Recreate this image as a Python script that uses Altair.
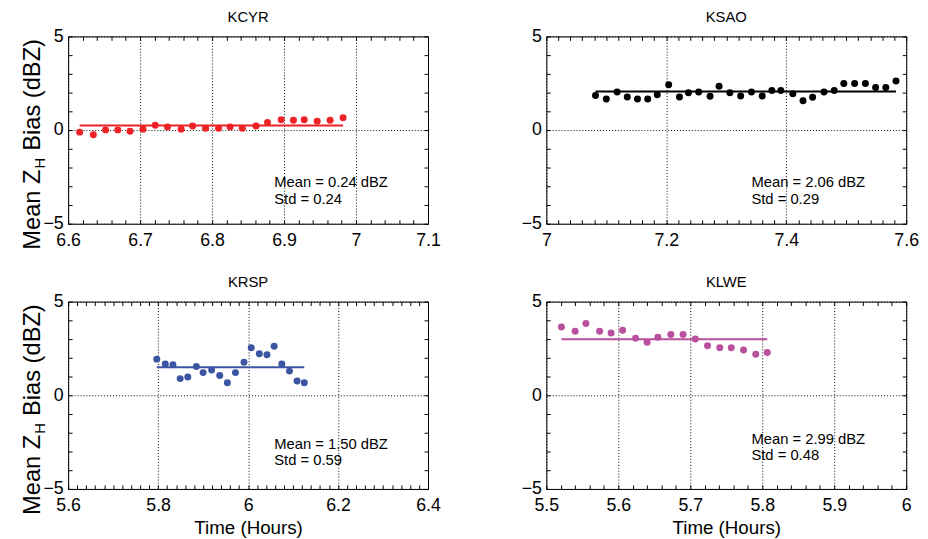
import altair as alt
import pandas as pd
import numpy as np

FONT = "Liberation Sans"

# ---------------- data ----------------
names = ["KCYR", "KSAO", "KRSP", "KLWE"]
colors = ["#ec2227", "#000000", "#3b55a3", "#b9509e"]
means = [0.24, 2.06, 1.50, 2.99]
stds = [0.24, 0.29, 0.59, 0.48]

kcyr_time = [6.616, 6.635, 6.652, 6.669, 6.686, 6.704, 6.721, 6.738, 6.757, 6.773, 6.791,
             6.809, 6.825, 6.842, 6.861, 6.877, 6.896, 6.913, 6.928, 6.946, 6.964, 6.982]
kcyr_bias = [-0.11, -0.25, 0.01, 0.01, -0.06, 0.05, 0.26, 0.17, 0.05, 0.22, 0.10,
             0.10, 0.17, 0.10, 0.22, 0.41, 0.55, 0.52, 0.55, 0.47, 0.52, 0.66]

ksao_time = [7.082, 7.100, 7.118, 7.135, 7.152, 7.169, 7.185, 7.204, 7.222, 7.237,
             7.254, 7.273, 7.288, 7.306, 7.324, 7.342, 7.360, 7.376, 7.391, 7.411,
             7.428, 7.444, 7.463, 7.480, 7.496, 7.514, 7.532, 7.549, 7.566, 7.583]
ksao_bias = [1.85, 1.66, 2.03, 1.77, 1.66, 1.66, 1.89, 2.42, 1.77, 1.99,
             2.03, 1.80, 2.34, 1.99, 1.82, 2.03, 1.82, 2.11, 2.11, 1.94,
             1.57, 1.75, 2.03, 2.11, 2.48, 2.48, 2.48, 2.27, 2.27, 2.62]

krsp_time = [5.797, 5.816, 5.833, 5.849, 5.866, 5.885, 5.900, 5.919, 5.937, 5.954,
             5.972, 5.991, 6.007, 6.025, 6.042, 6.058, 6.075, 6.092, 6.109, 6.125]
krsp_bias = [1.93, 1.67, 1.63, 0.89, 0.98, 1.54, 1.21, 1.35, 1.06, 0.67,
             1.21, 1.76, 2.54, 2.22, 2.16, 2.62, 1.67, 1.29, 0.76, 0.67]

klwe_time = [5.521, 5.540, 5.555, 5.574, 5.590, 5.606, 5.624, 5.640, 5.655,
             5.673, 5.690, 5.707, 5.724, 5.741, 5.757, 5.774, 5.791, 5.807]
klwe_bias = [3.65, 3.42, 3.83, 3.42, 3.33, 3.47, 3.04, 2.83, 3.10,
             3.24, 3.24, 3.01, 2.65, 2.54, 2.54, 2.42, 2.19, 2.28]

x_domains = [[6.6, 7.1], [7.0, 7.6], [5.6, 6.4], [5.5, 6.0]]
x_majors = [[6.6, 6.7, 6.8, 6.9, 7.0, 7.1], [7.0, 7.2, 7.4, 7.6],
            [5.6, 5.8, 6.0, 6.2, 6.4], [5.5, 5.6, 5.7, 5.8, 5.9, 6.0]]
y_majors = [-5, 0, 5]
y_minors = [-5, -4, -3, -2, -1, 0, 1, 2, 3, 4, 5]

times = [kcyr_time, ksao_time, krsp_time, klwe_time]
biases = [kcyr_bias, ksao_bias, krsp_bias, klwe_bias]

W = 365
H = 190
TEXT_Y = [153, 153, 149, 144]
TEXT_X = [209, 208, 209, 208]


def tick_axis(orient, values):
    return alt.Axis(orient=orient, values=values, labels=False, domain=False, grid=False,
                    ticks=True, tickSize=4, tickColor="black", tickWidth=1, offset=-4,
                    title=None)


def panel(i):
    t, b = times[i], biases[i]
    color = colors[i]
    dom = x_domains[i]
    df = pd.DataFrame({"t": t, "b": b})
    mdf = pd.DataFrame({"t0": [min(t)], "t1": [max(t)], "m": [means[i]]})
    minor = [round(v, 4) for v in np.arange(dom[0], dom[1] + 1e-9, 0.02)]
    xs = alt.Scale(domain=dom, nice=False, zero=False)
    ys = alt.Scale(domain=[-5, 5], nice=False)
    common = dict(labelFont=FONT, labelFontSize=18, labelColor="black",
                  domain=False, ticks=False, grid=True, gridColor="black",
                  gridDash=[1, 2], gridOpacity=1, gridWidth=1, labelFlush=False,
                  labelOverlap=False)
    show_xtitle = i >= 2
    if show_xtitle:
        xaxis = alt.Axis(orient="bottom", values=x_majors[i], format="~g", labelPadding=8,
                         title="Time (Hours)", titleFont=FONT, titleFontSize=19,
                         titleFontWeight="normal", titleColor="black", titlePadding=4,
                         **common)
    else:
        xaxis = alt.Axis(orient="bottom", values=x_majors[i], format="~g", labelPadding=8,
                         title=None, **common)
    yaxis = alt.Axis(orient="left", values=y_majors, labelPadding=5, title=None, **common)

    ghost = alt.Chart(df).mark_circle(opacity=0).encode(
        x=alt.X("t:Q", scale=xs, axis=tick_axis("top", minor)),
        y=alt.Y("b:Q", scale=ys, axis=tick_axis("right", y_minors)),
    )
    rule = alt.Chart(mdf).mark_rule(color=color, strokeWidth=2).encode(
        x=alt.X("t0:Q", scale=xs, axis=tick_axis("bottom", minor)),
        x2="t1:Q",
        y=alt.Y("m:Q", scale=ys, axis=tick_axis("left", y_minors)),
    )
    pts = alt.Chart(df).mark_circle(size=50, color=color, opacity=1).encode(
        x=alt.X("t:Q", scale=xs, axis=xaxis),
        y=alt.Y("b:Q", scale=ys, axis=yaxis),
    )
    txt_df = pd.DataFrame({"s": [f"Mean = {means[i]:.2f} dBZ"], "s2": [f"Std = {stds[i]:.2f}"]})
    t1 = alt.Chart(txt_df).mark_text(font=FONT, fontSize=15, align="left",
                                     baseline="alphabetic", color="black").encode(
        text="s:N", x=alt.value(TEXT_X[i]), y=alt.value(TEXT_Y[i]))
    t2 = alt.Chart(txt_df).mark_text(font=FONT, fontSize=15, align="left",
                                     baseline="alphabetic", color="black").encode(
        text="s2:N", x=alt.value(TEXT_X[i]), y=alt.value(TEXT_Y[i] + 17))
    layers = [ghost, rule, pts, t1, t2]

    if i % 2 == 0:
        lab = pd.DataFrame({"a": ["Mean Z"], "h": ["H"], "c": ["Bias (dBZ)"]})
        ax = -29
        ay = H / 2 + 15 + 25
        la = alt.Chart(lab).mark_text(font=FONT, fontSize=24, angle=270, align="right",
                                      baseline="alphabetic", color="black").encode(
            text="a:N", x=alt.value(ax), y=alt.value(ay))
        lh = alt.Chart(lab).mark_text(font=FONT, fontSize=15, angle=270, align="left",
                                      baseline="alphabetic", color="black").encode(
            text="h:N", x=alt.value(ax + 6), y=alt.value(ay - 1))
        lc = alt.Chart(lab).mark_text(font=FONT, fontSize=24, angle=270, align="left",
                                      baseline="alphabetic", color="black").encode(
            text="c:N", x=alt.value(ax), y=alt.value(ay - 19))
        layers += [la, lh, lc]

    return alt.layer(*layers).resolve_axis(x="independent", y="independent").properties(
        width=W, height=H,
        title=alt.TitleParams(names[i], font=FONT, fontSize=15, fontWeight="normal",
                              color="black", offset=3),
    )


chart = alt.concat(panel(0), panel(1), panel(2), panel(3), columns=2,
                   spacing=alt.RowColnumber(row=79, column=120), bounds="flush").configure_view(
    stroke="black", strokeWidth=1
).properties(padding={"left": 12, "top": -3, "right": 0, "bottom": 0})

chart.save("out.html", embed_options={"renderer": "svg", "actions": False})
